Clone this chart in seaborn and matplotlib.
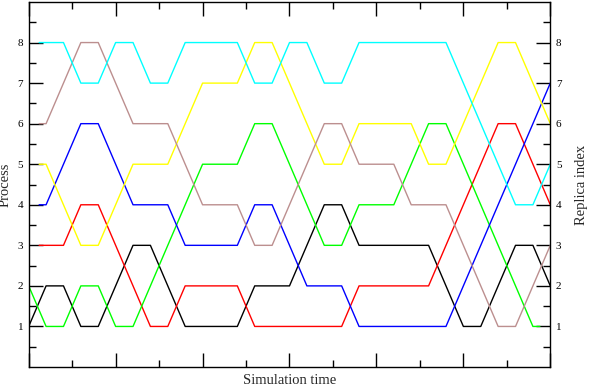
import matplotlib
matplotlib.use("Agg")
import matplotlib.pyplot as plt
from matplotlib.ticker import MultipleLocator, FixedLocator, NullFormatter
import seaborn as sns
import pandas as pd

# exchange steps 0..30
steps = list(range(31))
cyan   = [8,8,8,7,7,8,8,7,7,8,8,8,8,7,7,8,8,7,7,8,8,8,8,8,8,7,6,5,4,4,5]
brown  = [6,6,7,8,8,7,6,6,6,5,4,4,4,3,3,4,5,6,6,5,5,5,4,4,4,3,2,1,1,2,3]
yellow = [5,5,4,3,3,4,5,5,5,6,7,7,7,8,8,7,6,5,5,6,6,6,6,5,5,6,7,8,8,7,6]
blue   = [4,4,5,6,6,5,4,4,4,3,3,3,3,4,4,3,2,2,2,1,1,1,1,1,1,2,3,4,5,6,7]
red    = [3,3,3,4,4,3,2,1,1,2,2,2,2,1,1,1,1,1,1,2,2,2,2,2,3,4,5,6,6,5,4]
black  = [1,2,2,1,1,2,3,3,2,1,1,1,1,2,2,2,3,4,4,3,3,3,3,3,2,1,1,2,3,3,2]
green  = [2,1,1,2,2,1,1,2,3,4,5,5,5,6,6,5,4,3,3,4,4,4,5,6,6,5,4,3,2,1,1]

names  = ["black", "red", "green", "blue", "yellow", "brown", "cyan"]
series = [black, red, green, blue, yellow, brown, cyan]
colors = ["#000000", "#ff0000", "#00ff00", "#0000ff", "#ffff00", "#bc8f8f", "#00ffff"]
# first / last drawn time of each trace
starts = [0.0, 0.6, 0.0, 0.6, 0.6, 0.6, 0.6]
ends   = [30.0, 30.0, 29.4, 30.0, 30.0, 30.0, 30.0]

rows = []
for n, vals, s, e in zip(names, series, starts, ends):
    xs = [float(t) for t in steps]
    xs[0] = s
    xs[-1] = e
    for i, (x, v) in enumerate(zip(xs, vals)):
        rows.append({"replica": n, "time": x, "process": v, "order": i})
df = pd.DataFrame(rows)

sns.set_style("ticks")
plt.rcParams["font.family"] = ["Liberation Serif", "DejaVu Serif"]

fig = plt.figure(figsize=(5.91, 3.85), dpi=100)
ax = fig.add_axes([28.7/591, 1 - 367.0/385, (550.3-28.7)/591, (367.0-2.0)/385])

sns.lineplot(data=df, x="time", y="process", hue="replica", units="replica",
             estimator=None, sort=False, palette=dict(zip(names, colors)),
             hue_order=names, linewidth=1.0, legend=False, ax=ax)

ax.set_xlim(0, 30)
ax.set_ylim(0, 9)
ax.xaxis.set_major_locator(MultipleLocator(5))
ax.xaxis.set_minor_locator(MultipleLocator(2.5))
ax.xaxis.set_major_formatter(NullFormatter())
ax.yaxis.set_major_locator(FixedLocator([1, 2, 3, 4, 5, 6, 7, 8]))
ax.yaxis.set_minor_locator(FixedLocator([0.5 + i for i in range(9)]))
ax.tick_params(which="both", direction="in", top=True, right=True,
               labelright=True, width=1.0, colors="black")
ax.tick_params(which="major", length=10, labelsize=8, pad=4)
ax.tick_params(which="minor", length=5)
for sp in ax.spines.values():
    sp.set_linewidth(1.0)
    sp.set_color("black")
    sp.set_visible(True)

ax.set_xlabel("Simulation time", fontsize=10.5, labelpad=1)
ax.set_ylabel("Process", fontsize=10.5, labelpad=4)
ax.text(1.0 + 31.0/521.6, 0.5, "Replica index", rotation=90, fontsize=10.5,
        transform=ax.transAxes, ha="center", va="center")

fig.savefig("out.png", dpi=100)
